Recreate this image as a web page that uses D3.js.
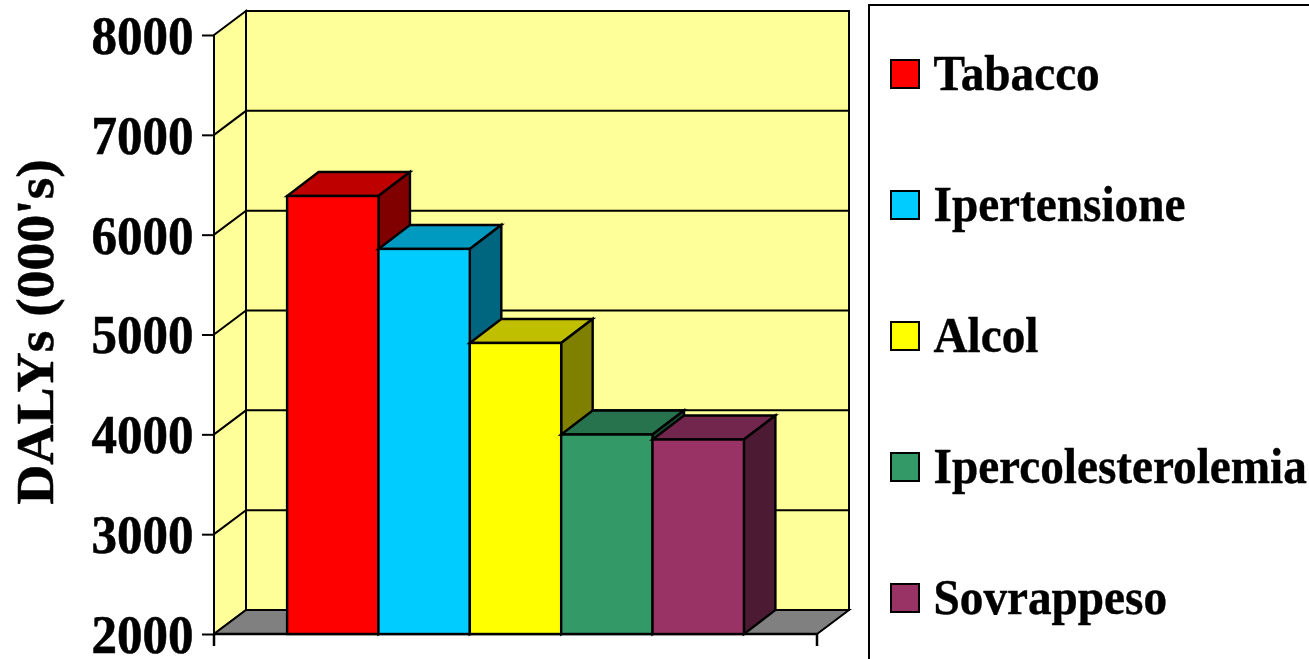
<!DOCTYPE html>
<html><head><meta charset="utf-8">
<script src="https://cdn.jsdelivr.net/npm/d3@7/dist/d3.min.js"></script>
<style>html,body{margin:0;padding:0;background:#fff;overflow:hidden}svg{display:block}text{font-family:"Liberation Serif",serif;font-weight:bold;fill:#000}</style>
</head><body><svg id="c" width="1309" height="659"></svg>
<script>
const categories = ["Tabacco","Ipertensione","Alcol","Ipercolesterolemia","Sovrappeso"];
const values = [6387,5857,4915,3998,3948];
const colors = ["#FF0000","#00CCFF","#FFFF00","#339966","#993366"];
const yTicks = [2000,3000,4000,5000,6000,7000,8000];
const yTitle = "DALYs (000's)";

const svg = d3.select("#c");
const dx = 32, dy = -24, barDx = 31.5;
const x = d3.scaleBand().domain(categories).range([214,817]).paddingInner(0).paddingOuter(0.8).align(0.5);
const y = d3.scaleLinear().domain([2000,8000]).range([634,35]);
const x0 = x.range()[0], x1 = x.range()[1], y0 = y.range()[0];
const pts = a => a.map(p => p.join(",")).join(" ");
const walls = svg.append("g").attr("stroke","#000").attr("stroke-width",2).attr("stroke-linejoin","miter");
walls.append("polygon").attr("fill","#FFFF99").attr("points",pts([[x0,y(8000)],[x0+dx,y(8000)+dy],[x0+dx,y0+dy],[x0,y0]]));
walls.append("polygon").attr("fill","#FFFF99").attr("points",pts([[x0+dx,y(8000)+dy],[x1+dx,y(8000)+dy],[x1+dx,y0+dy],[x0+dx,y0+dy]]));
walls.append("polygon").attr("fill","#808080").attr("points",pts([[x0,y0],[x1,y0],[x1+dx,y0+dy],[x0+dx,y0+dy]]));
walls.selectAll("polyline.g").data(yTicks.slice(1,-1)).join("polyline").attr("class","g").attr("fill","none")
  .attr("points",d=>pts([[x0,y(d)],[x0+dx,y(d)+dy],[x1+dx,y(d)+dy]]));

const axis = d3.axisLeft(y).tickValues(yTicks).tickSize(12).tickPadding(8.5).tickFormat(d3.format("d"));
const ag = svg.append("g").attr("transform",`translate(${x0},0)`).call(axis);
ag.select(".domain").attr("stroke","#000").attr("stroke-width",2).attr("d",`M0,${y(8000)}V${y0}`);
ag.selectAll(".tick line").attr("stroke","#000").attr("stroke-width",2);
ag.selectAll(".tick text").attr("font-size",54).attr("font-family","Liberation Serif").attr("font-weight","bold").attr("fill","#000")
  .attr("stroke","#000").attr("stroke-width",0.6).attr("dy","0.34em").attr("textLength",102).attr("lengthAdjust","spacingAndGlyphs");
svg.append("path").attr("fill","none").attr("stroke","#000").attr("stroke-width",2.5)
  .attr("d",`M${x0},${y0}H${x1}M${x0},${y0}v12M${x1},${y0}v12`);

const shade = (c,k) => (r=>d3.rgb(r.r*k,r.g*k,r.b*k).formatHex())(d3.rgb(c));
const bars = svg.append("g").selectAll("g").data(categories).join("g")
  .attr("stroke","#000").attr("stroke-width",2.4).attr("stroke-linejoin","miter");
bars.each(function(c,i){
  const g = d3.select(this), l = x(c), r = l + x.bandwidth(), t = y(values[i]);
  g.append("polygon").attr("fill",shade(colors[i],0.75)).attr("points",pts([[l,t],[r,t],[r+barDx,t+dy],[l+barDx,t+dy]]));
  g.append("polygon").attr("fill",shade(colors[i],0.5)).attr("points",pts([[r,t],[r+barDx,t+dy],[r+barDx,y0+dy],[r,y0]]));
  g.append("rect").attr("fill",colors[i]).attr("x",l).attr("y",t).attr("width",x.bandwidth()).attr("height",y0-t);
});

svg.append("text").attr("transform","translate(53,332) rotate(-90) scale(1.05,1)").attr("text-anchor","middle").attr("font-size",53)
  .attr("stroke","#000").attr("stroke-width",0.5).text(yTitle);

svg.append("rect").attr("x",869).attr("y",5).attr("width",460).attr("height",680).attr("fill","#fff").attr("stroke","#000").attr("stroke-width",2);
const ly = d3.scalePoint().domain(categories).range([74,598]);
const lg = svg.append("g").selectAll("g").data(categories).join("g").attr("transform",c=>`translate(891,${ly(c)})`);
lg.append("rect").attr("x",0).attr("y",-14).attr("width",28).attr("height",28).attr("fill",(c,i)=>colors[i]).attr("stroke","#000").attr("stroke-width",2);
lg.append("text").attr("transform","translate(42.5,16) scale(0.945,1)").attr("font-size",50).attr("stroke","#000").attr("stroke-width",0.4).text(c=>c);
</script></body></html>
